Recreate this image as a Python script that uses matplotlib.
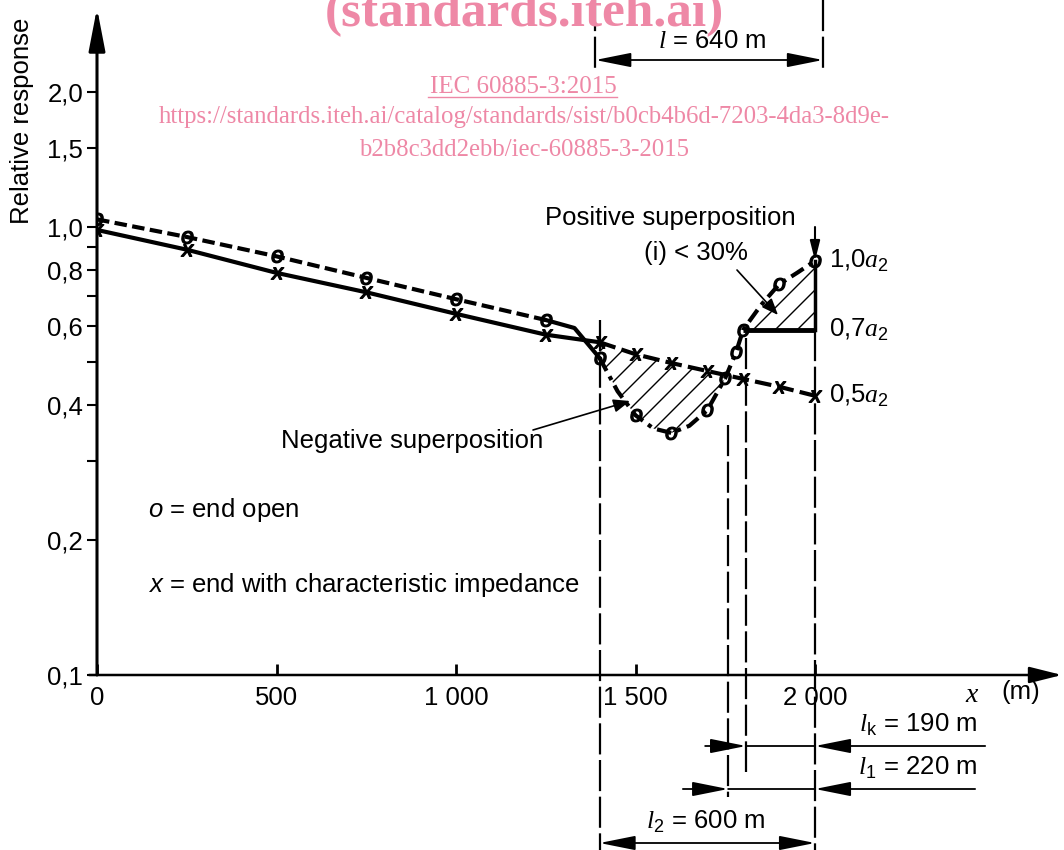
import numpy as np
import matplotlib
matplotlib.use("Agg")
import matplotlib.pyplot as plt
from matplotlib import transforms
from matplotlib.patches import Polygon
from matplotlib.collections import LineCollection
from matplotlib.lines import Line2D

plt.rcParams["font.family"] = ["Liberation Sans", "DejaVu Sans"]
plt.rcParams["mathtext.fontset"] = "custom"
plt.rcParams["mathtext.rm"] = "Liberation Sans"
plt.rcParams["mathtext.it"] = "Liberation Sans:italic"
plt.rcParams["mathtext.cal"] = "Liberation Serif:italic"

# end with characteristic impedance (x)
match_x = [0, 250, 500, 750, 1000, 1250, 1400, 1500, 1600, 1700, 1800, 1900, 2000]
match_y = [0.985, 0.89, 0.79, 0.715, 0.64, 0.575, 0.553, 0.52, 0.497, 0.477, 0.458, 0.44, 0.42]

# end open (o)
open_x = [0, 250, 500, 750, 1000, 1250, 1330, 1400, 1450, 1500, 1550, 1600, 1650,
          1700, 1750, 1780, 1800, 1850, 1900, 1950, 2000]
open_y = [1.04, 0.95, 0.86, 0.77, 0.69, 0.62, 0.595, 0.51, 0.43, 0.38, 0.355, 0.347, 0.36,
          0.39, 0.46, 0.525, 0.59, 0.67, 0.745, 0.79, 0.84]
open_marks = [0, 250, 500, 750, 1000, 1250, 1400, 1500, 1600, 1700, 1750, 1780, 1800, 1900, 2000]

a2 = 0.84
a2_factors = [1.0, 0.7, 0.5]
a2_labels = ["1,0", "0,7", "0,5"]

x_ticks = [0, 500, 1000, 1500, 2000]
x_ticklabels = ["0", "500", "1 000", "1 500", "2 000"]
y_ticks = [0.1, 0.2, 0.3, 0.4, 0.5, 0.6, 0.7, 0.8, 0.9, 1.0, 1.5, 2.0]
y_ticklabels = ["0,1", "0,2", "", "0,4", "", "0,6", "", "0,8", "", "1,0", "1,5", "2,0"]

# section boundaries (m)
x_l2 = 1400
x_l1 = 1758
x_lk = 1808
x_end = 2000

W, H = 1064, 850
PINK = "#ee88a6"
FS = 18.5


def fx(p):
    return p / W


def fy(p):
    return 1 - p / H


fig = plt.figure(figsize=(W / 100, H / 100), dpi=100)
ax = fig.add_axes([fx(97), 175 / H, 965 / W, 667 / H])
ax.set_yscale("log")
bt = transforms.blended_transform_factory(ax.transData, fig.transFigure)

ox, oy = np.array(open_x), np.array(open_y)
mx, my = np.array(match_x), np.array(match_y)

# open-end curve: dashed, solid bend, dashed
i1250 = open_x.index(1250)
i1400 = open_x.index(1400)
ax.plot(ox[:i1250 + 1], oy[:i1250 + 1], color="k", lw=3, dashes=(3, 1.3))
ax.plot(ox[i1250:i1400 + 1], oy[i1250:i1400 + 1], color="k", lw=3)
ax.plot(ox[i1400:], oy[i1400:], color="k", lw=3, dashes=(3.5, 1.5, 1, 1.5))
marks = [open_x.index(v) for v in open_marks]
ax.plot(ox[marks], oy[marks], ls="none", marker="$o$", ms=9, color="k")

# matched-end curve
j1400 = match_x.index(1400)
ax.plot(mx[:j1400 + 1], my[:j1400 + 1], color="k", lw=3)
ax.plot(mx[j1400:], my[j1400:], color="k", lw=3, dashes=(4, 1.5))
ax.plot(mx, my, ls="none", marker="$x$", ms=9, color="k")


def hatch(pts, step=22 / 965):
    patch = Polygon(pts, closed=True, fill=False, edgecolor="none")
    ax.add_patch(patch)
    rise = 667 / 965
    segs = [[(c, 0), (c + rise, 1)] for c in np.arange(-1, 1.2, step)]
    lc = LineCollection(segs, colors="k", linewidths=1, transform=ax.transAxes)
    ax.add_collection(lc)
    lc.set_clip_path(patch)


# negative superposition region
i1750 = open_x.index(1750)
j1700 = match_x.index(1700)
neg = list(zip(open_x[i1400:i1750 + 1], open_y[i1400:i1750 + 1]))
neg += list(zip(match_x[j1400:j1700 + 1], match_y[j1400:j1700 + 1]))[::-1]
hatch(neg)

# positive superposition region
level07 = a2 * a2_factors[1]
i1800 = open_x.index(1800)
pos = list(zip(open_x[i1800:], open_y[i1800:])) + [(x_end, level07), (1800, level07)]
hatch(pos)
ax.plot([1800, x_end], [level07, level07], color="k", lw=3.5, solid_capstyle="butt")
ax.plot([x_end, x_end], [level07, a2], color="k", lw=2.5)
ax.annotate("", xy=(x_end, a2), xytext=(x_end, 1.0),
            arrowprops=dict(arrowstyle="-|>,head_length=0.6,head_width=0.15", color="k",
                            lw=1.5, shrinkA=0, shrinkB=0, mutation_scale=20))

for f, lab in zip(a2_factors, a2_labels):
    ax.text(2040, a2 * f, lab + r"$\mathcal{a}_2$", fontsize=FS, va="center", ha="left")

# vertical boundary lines
vdash = dict(color="k", lw=1.6, dashes=(14, 2.5), transform=bt, clip_on=False)
ax.plot([x_l2, x_l2], [fy(320), fy(850)], **vdash)
ax.plot([x_l1, x_l1], [fy(425), fy(797)], **vdash)
ax.plot([x_lk, x_lk], [fy(338), fy(772)], **vdash)
ax.plot([x_end, x_end], [fy(330), fy(850)], **vdash)
ax.plot([1388, 1388], [fy(0), fy(72)], **vdash)
ax.plot([2022, 2022], [fy(0), fy(72)], **vdash)


def dim(x0, x1, yp, style):
    ax.annotate("", xy=(x1, fy(yp)), xytext=(x0, fy(yp)), xycoords=bt, textcoords=bt,
                annotation_clip=False,
                arrowprops=dict(arrowstyle=style, color="k", lw=1.3, shrinkA=0, shrinkB=0,
                                mutation_scale=20))


both = "<|-|>,head_length=1.1,head_width=0.22"
one = "-|>,head_length=1.1,head_width=0.22"
dim(1388, 2022, 60, both)
dim(x_l2, x_end, 843, both)
dim(1694, x_lk, 746, one)
dim(2474, x_end, 746, one)
dim(x_lk, x_end, 746, "-")
dim(1632, x_l1, 789, one)
dim(2446, x_end, 789, one)
dim(x_l1, x_end, 789, "-")

# axes with arrows
for s in ax.spines.values():
    s.set_visible(False)
ax.annotate("", xy=(0, 1), xytext=(0, 0), xycoords="axes fraction",
            arrowprops=dict(arrowstyle="-|>,head_length=1.3,head_width=0.25", color="k",
                            lw=2.2, shrinkA=0, shrinkB=0, mutation_scale=20))
ax.annotate("", xy=(1, 0), xytext=(-8 / 965, 0), xycoords="axes fraction",
            arrowprops=dict(arrowstyle="-|>,head_length=1.0,head_width=0.25", color="k",
                            lw=1.8, shrinkA=0, shrinkB=0, mutation_scale=20))

ax.set_xticks(x_ticks)
ax.set_xticklabels(x_ticklabels)
ax.set_yticks(y_ticks)
ax.set_yticklabels(y_ticklabels)
ax.yaxis.set_minor_locator(matplotlib.ticker.NullLocator())
ax.tick_params(axis="y", direction="out", length=7, width=1.5, labelsize=FS, pad=3)
ax.tick_params(axis="x", direction="in", length=8, width=2, labelsize=FS, pad=8)
ax.set_xlim(0, 965 / 0.359)
ax.set_ylim(0.1, 10 ** (667 / 448 - 1))

# annotations
txt = dict(fontsize=FS, color="k")
fig.text(fx(22), fy(121), "Relative response", rotation=90, ha="center", va="center", **txt)
fig.text(fx(670), fy(218), "Positive superposition", ha="center", va="center", **txt)
fig.text(fx(696), fy(253), "(i) < 30%", ha="center", va="center", **txt)
fig.text(fx(412), fy(441), "Negative superposition", ha="center", va="center", **txt)
fig.text(fx(148), fy(510), r"$o$ = end open", ha="left", va="center", **txt)
fig.text(fx(148), fy(585), r"$x$ = end with characteristic impedance", ha="left", va="center", **txt)
fig.text(fx(712), fy(41), r"$\mathcal{l}$ = 640 m", ha="center", va="center", **txt)
fig.text(fx(977), fy(725), r"$\mathcal{l}_\mathrm{k}$ = 190 m", ha="right", va="center", **txt)
fig.text(fx(977), fy(768), r"$\mathcal{l}_1$ = 220 m", ha="right", va="center", **txt)
fig.text(fx(706), fy(822), r"$\mathcal{l}_2$ = 600 m", ha="center", va="center", **txt)
fig.text(fx(972), fy(695), r"$\mathcal{x}$", ha="center", va="center", fontsize=20)
fig.text(fx(1021), fy(692), "(m)", ha="center", va="center", **txt)

lead = dict(arrowstyle="-|>,head_length=0.5,head_width=0.2", color="k", lw=1.2,
            shrinkA=0, shrinkB=0, mutation_scale=20)
fig.add_artist(matplotlib.text.Annotation("", xy=(fx(778), fy(315)), xytext=(fx(737), fy(270)),
                                          xycoords="figure fraction", arrowprops=lead))
fig.add_artist(matplotlib.text.Annotation("", xy=(fx(630), fy(401)), xytext=(fx(533), fy(430)),
                                          xycoords="figure fraction", arrowprops=lead))

# watermark
fig.text(fx(524), fy(26), "(standards.iteh.ai)", ha="center", va="baseline", fontsize=37,
         fontweight="bold", family="Liberation Serif", color=PINK)
fig.text(fx(523), fy(87), "IEC 60885-3:2015", ha="center", va="center", fontsize=18,
         family="Liberation Serif", color=PINK)
fig.add_artist(Line2D([fx(428), fx(617)], [fy(97), fy(97)], color=PINK, lw=1))
fig.text(fx(524), fy(117), "https://standards.iteh.ai/catalog/standards/sist/b0cb4b6d-7203-4da3-8d9e-",
         ha="center", va="center", fontsize=17.8, family="Liberation Serif", color=PINK)
fig.text(fx(524), fy(150), "b2b8c3dd2ebb/iec-60885-3-2015", ha="center", va="center",
         fontsize=17.8, family="Liberation Serif", color=PINK)

fig.savefig("out.png", dpi=100)
